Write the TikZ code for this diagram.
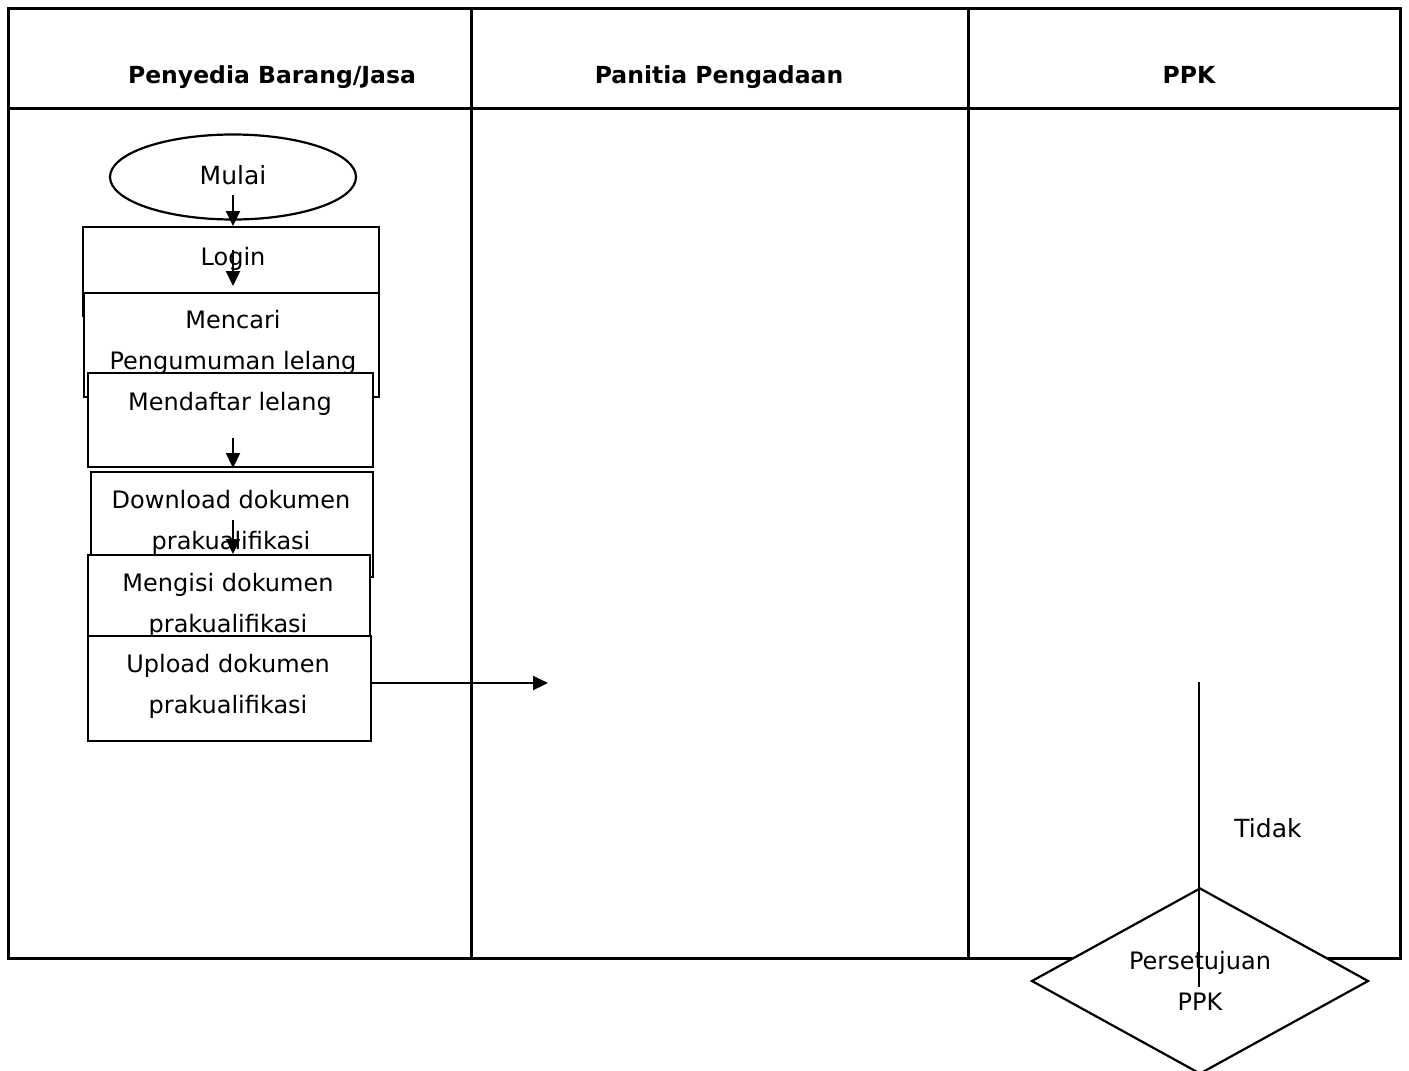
\documentclass[tikz,border=0pt]{standalone}
\usepackage{fontspec}
\setmainfont{DejaVu Sans}
\usetikzlibrary{shapes.geometric,arrows.meta}
\begin{document}
\begin{tikzpicture}[x=1pt,y=-1pt,
  lane/.style={line width=3pt},
  box/.style={draw,fill=white,line width=2.2pt,inner sep=0pt,anchor=north west},
  btext/.style={font=\fontsize{24}{41}\selectfont,align=center,inner sep=0pt},
  head/.style={font=\fontsize{23.5}{28}\selectfont\bfseries,inner sep=0pt,anchor=base},
  arr/.style={line width=2.2pt,-{Triangle[length=15pt,width=14pt]}},
  conn/.style={line width=2.2pt}]
\useasboundingbox[fill=white] (0,0) rectangle (1409,1071);
% swimlane table
\coordinate (tl) at (8,8);
\coordinate (br) at (1400,958);
\draw[lane] (tl) rectangle (br);
\draw[lane] (8,108) -- (1400,108);
\draw[lane] (471,8) -- (471,958);
\draw[lane] (968,8) -- (968,958);
\node[head] (h1) at (272,83) {Penyedia Barang/Jasa};
\node[head] (h2) at (719,83) {Panitia Pengadaan};
\node[head] (h3) at (1189,83) {PPK};
% flow boxes
\node[draw,ellipse,line width=2.2pt,minimum width=246pt,minimum height=85pt,inner sep=0pt] (mulai) at (233,177) {};
\node[btext,font=\fontsize{25}{41}\selectfont,anchor=base] (tmulai) at (233,184) {Mulai};
\node[box,minimum width=296pt,minimum height=89pt] (login) at (82,226) {};
\node[btext,anchor=base] (tlogin) at (233,265) {Login};
\node[box,minimum width=295pt,minimum height=104pt] (mencari) at (83,292) {};
\node[btext] (tmencari) at (233,342) {Mencari\\Pengumuman lelang};
\node[box,minimum width=285pt,minimum height=94pt] (mendaftar) at (87,372) {};
\node[btext,anchor=base] (tmendaftar) at (230,410) {Mendaftar lelang};
\node[box,minimum width=282pt,minimum height=105pt] (download) at (90,471) {};
\node[btext] (tdownload) at (231,522) {Download dokumen\\prakualifikasi};
\node[box,minimum width=282pt,minimum height=104pt] (mengisi) at (87,554) {};
\node[btext] (tmengisi) at (228,605) {Mengisi dokumen\\prakualifikasi};
\node[box,minimum width=283pt,minimum height=105pt] (upload) at (87,635) {};
\node[btext] (tupload) at (228,686) {Upload dokumen\\prakualifikasi};
% arrows
\draw[arr] ([yshift=-18pt]mulai.center) -- (mulai.center |- login.north);
\draw[arr] ([yshift=-24pt]mulai.center |- login.north) -- ([yshift=6pt]mulai.center |- mencari.north);
\draw[arr] ([yshift=30pt]mulai.center |- mendaftar.south) -- ([yshift=3pt]mulai.center |- download.north);
\draw[arr] ([yshift=-49pt]mulai.center |- download.north) -- (mulai.center |- mengisi.north);
\coordinate (panitia) at (548,683);
\draw[arr] (upload.east |- panitia) -- (panitia);
% PPK decision
\node[draw,diamond,fill=white,line width=2.2pt,aspect=1.81,minimum width=337pt,minimum height=186pt,inner sep=0pt,font=\fontsize{24}{41}\selectfont,align=center] (pers) at (1200,981) {Persetujuan\\PPK};
\coordinate (ppktop) at (1199,682);
\draw[conn] (ppktop) -- ([yshift=-6pt]ppktop |- pers.center);
\node[font=\fontsize{25}{30}\selectfont,inner sep=0pt] (tidak) at (1268,828) {Tidak};
\end{tikzpicture}
\end{document}
